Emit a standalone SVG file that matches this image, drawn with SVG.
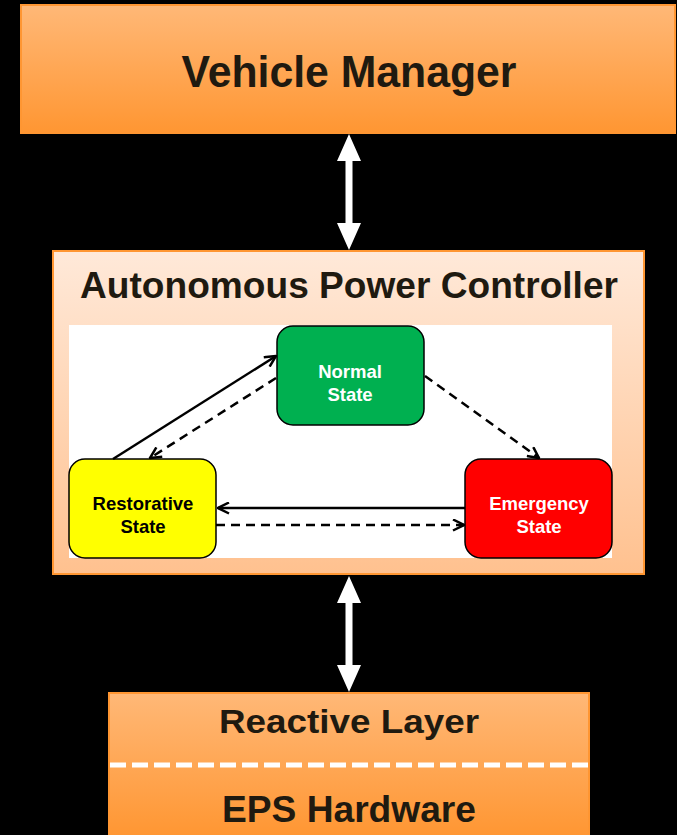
<svg xmlns="http://www.w3.org/2000/svg" width="677" height="835" viewBox="0 0 677 835">
<style>
.big{font-family:"Liberation Sans",Arial,sans-serif;font-weight:bold;fill:#1f1a10;text-anchor:middle}
.st{font-family:"Liberation Sans",Arial,sans-serif;font-weight:bold;font-size:18.5px;text-anchor:middle}
.state{stroke:#000;stroke-width:1.5}
.conn{stroke:#000;stroke-width:2.5;fill:none}
.dash{stroke-dasharray:9 6}
.wa{fill:#fff}
</style>
<defs>
<linearGradient id="gOr" x1="0" y1="0" x2="0" y2="1">
<stop offset="0" stop-color="#FFB877"/>
<stop offset="1" stop-color="#FF9632"/>
</linearGradient>
<linearGradient id="gPe" x1="0" y1="0" x2="0" y2="1">
<stop offset="0" stop-color="#FFE9D9"/>
<stop offset="1" stop-color="#FFC18F"/>
</linearGradient>
<marker id="ah" viewBox="0 0 13 13" refX="12" refY="6.5" markerWidth="13" markerHeight="13" markerUnits="userSpaceOnUse" orient="auto">
<path d="M1,1 L12,6.5 L1,12" fill="none" stroke="#000" stroke-width="2.5"/>
</marker>
</defs>
<rect width="677" height="835" fill="#000"/>

<g id="vehicle-manager">
<rect x="21" y="5" width="654" height="128" fill="url(#gOr)" stroke="#FF9632" stroke-width="2"/>
<text class="big" x="349" y="87" font-size="44" textLength="335" lengthAdjust="spacingAndGlyphs">Vehicle Manager</text>
</g>

<g id="apc">
<rect x="53" y="251" width="591" height="323" fill="url(#gPe)" stroke="#FF9632" stroke-width="2"/>
<text class="big" x="349" y="298" font-size="36" textLength="538" lengthAdjust="spacingAndGlyphs">Autonomous Power Controller</text>
<rect x="69" y="325" width="543" height="233" fill="#fff"/>
</g>

<g id="reactive-eps">
<rect x="109" y="693" width="480" height="144" fill="url(#gOr)" stroke="#FF9632" stroke-width="2"/>
<line x1="110" y1="765" x2="589" y2="765" stroke="#fff" stroke-width="5" stroke-dasharray="16 6"/>
<text class="big" x="349" y="733" font-size="34" textLength="260" lengthAdjust="spacingAndGlyphs">Reactive Layer</text>
<text class="big" x="349" y="822" font-size="36" textLength="254" lengthAdjust="spacingAndGlyphs">EPS Hardware</text>
</g>

<g id="normal-state">
<rect class="state" x="277" y="326" width="147" height="99" rx="16" fill="#00B050"/>
<text class="st" x="350" y="378" fill="#fff">Normal</text>
<text class="st" x="350" y="401" fill="#fff">State</text>
</g>

<g id="restorative-state">
<rect class="state" x="69" y="459" width="147" height="99" rx="16" fill="#FFFF00"/>
<text class="st" x="143" y="510" fill="#000">Restorative</text>
<text class="st" x="143" y="533" fill="#000">State</text>
</g>

<g id="emergency-state">
<rect class="state" x="465" y="459" width="147" height="99" rx="16" fill="#FF0000"/>
<text class="st" x="539" y="510" fill="#fff">Emergency</text>
<text class="st" x="539" y="533" fill="#fff">State</text>
</g>

<g id="connectors">
<path class="wa" d="M349,134 L361,161 L352.5,161 L352.5,223 L361,223 L349,250 L337,223 L345.5,223 L345.5,161 L337,161 Z"/>
<path class="wa" d="M349,576 L361,603 L352.5,603 L352.5,665 L361,665 L349,692 L337,665 L345.5,665 L345.5,603 L337,603 Z"/>
<line class="conn" x1="113" y1="459" x2="276" y2="356" marker-end="url(#ah)"/>
<line class="conn dash" x1="276" y1="378" x2="150" y2="458" marker-end="url(#ah)"/>
<line class="conn dash" x1="425" y1="376" x2="539" y2="458" marker-end="url(#ah)"/>
<line class="conn" x1="465" y1="508" x2="218" y2="508" marker-end="url(#ah)"/>
<line class="conn dash" x1="216" y1="525" x2="464" y2="525" marker-end="url(#ah)"/>
</g>
</svg>
